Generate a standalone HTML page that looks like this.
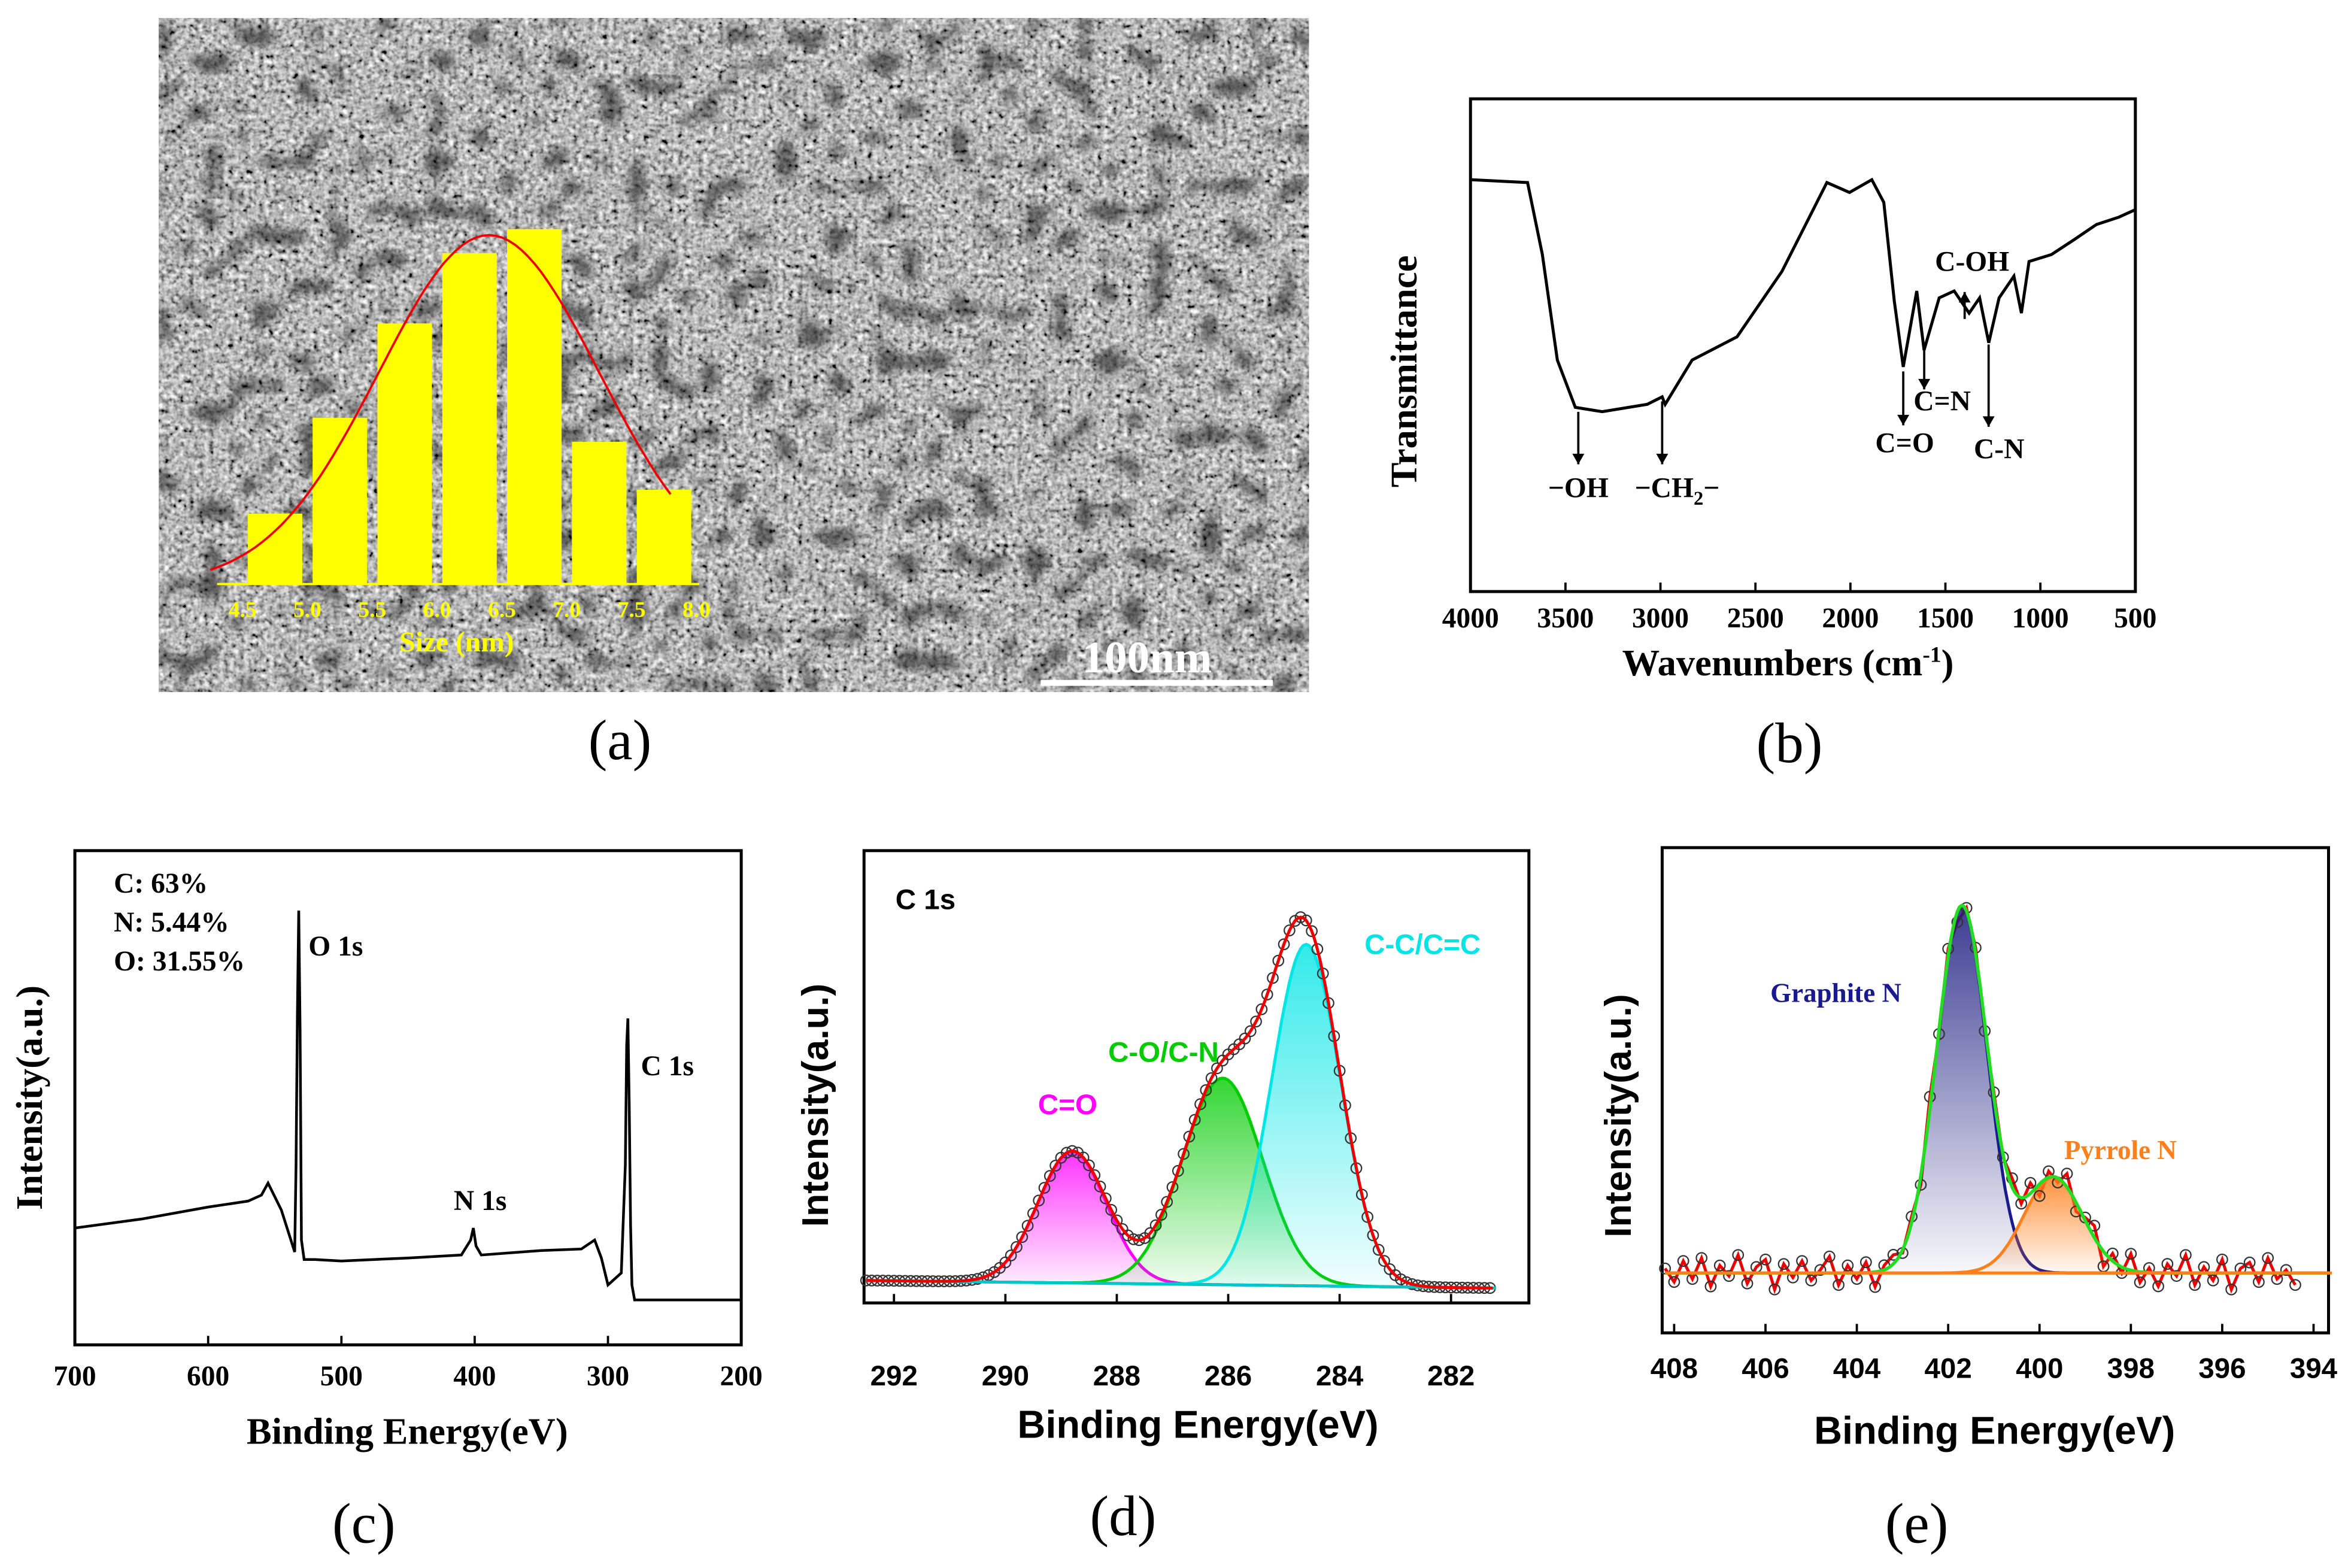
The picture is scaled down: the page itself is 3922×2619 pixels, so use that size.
<!DOCTYPE html>
<html><head><meta charset="utf-8"><title>Carbon dots characterization</title>
<style>html,body{margin:0;padding:0;background:#fff}svg{display:block}
.serif{font-family:"Liberation Serif",serif;font-weight:bold}
.sans{font-family:"Liberation Sans",sans-serif;font-weight:bold}</style></head>
<body>
<svg id="fig" xmlns="http://www.w3.org/2000/svg" width="3922" height="2619" viewBox="0 0 1568 1047" preserveAspectRatio="none">
<defs>
<filter id="tem" x="0" y="0" width="100%" height="100%">
<feTurbulence type="fractalNoise" baseFrequency="0.3" numOctaves="2" seed="3" result="n1"/>
<feColorMatrix in="n1" type="matrix" values="0.33 0.33 0.33 0 0 0.33 0.33 0.33 0 0 0.33 0.33 0.33 0 0 0 0 0 0 1" result="g"/>
<feComponentTransfer in="g"><feFuncR type="linear" slope="2.4" intercept="-0.72"/><feFuncG type="linear" slope="2.4" intercept="-0.72"/><feFuncB type="linear" slope="2.4" intercept="-0.72"/></feComponentTransfer>
</filter>
<filter id="blob" x="0" y="0" width="100%" height="100%">
<feTurbulence type="fractalNoise" baseFrequency="0.06" numOctaves="1" seed="11"/>
<feColorMatrix type="matrix" values="0 0 0 0 0 0 0 0 0 0 0 0 0 0 0 -7 0 0 0 3.15"/>
<feGaussianBlur stdDeviation="2.5"/>
</filter>
<linearGradient id="gM" x1="0" y1="0" x2="0" y2="1"><stop offset="0" stop-color="#ff00ff" stop-opacity="0.8"/><stop offset="1" stop-color="#ff00ff" stop-opacity="0.05"/></linearGradient>
<linearGradient id="gG" x1="0" y1="0" x2="0" y2="1"><stop offset="0" stop-color="#00cc00" stop-opacity="0.8"/><stop offset="1" stop-color="#00cc00" stop-opacity="0.05"/></linearGradient>
<linearGradient id="gC" x1="0" y1="0" x2="0" y2="1"><stop offset="0" stop-color="#00e5e5" stop-opacity="0.8"/><stop offset="1" stop-color="#00e5e5" stop-opacity="0.05"/></linearGradient>
<linearGradient id="gB" x1="0" y1="0" x2="0" y2="1"><stop offset="0" stop-color="#1a1a80" stop-opacity="0.85"/><stop offset="1" stop-color="#1a1a80" stop-opacity="0.03"/></linearGradient>
<linearGradient id="gO" x1="0" y1="0" x2="0" y2="1"><stop offset="0" stop-color="#ff7f1a" stop-opacity="0.85"/><stop offset="1" stop-color="#ff7f1a" stop-opacity="0.05"/></linearGradient>
</defs>
<g id="pa">
<rect x="106" y="12" width="768" height="450" fill="#777" filter="url(#tem)"/>
<rect x="106" y="12" width="768" height="450" fill="#000" filter="url(#blob)" opacity="0.5"/>
<line x1="695" y1="456" x2="850" y2="456" stroke="#fff" stroke-width="4"/>
<text x="766" y="449" class="serif" fill="#fff" font-size="30" text-anchor="middle">100nm</text>
</g>
<g id="pb"></g>
<g id="pc"></g>
<g id="pd"></g>
<g id="pe"></g>
</svg>
<script>
const NS="http://www.w3.org/2000/svg";
function mk(parent,tag,attrs,txt){const e=document.createElementNS(NS,tag);for(const k in attrs)e.setAttribute(k,attrs[k]);if(txt!==undefined)e.textContent=txt;parent.appendChild(e);return e;}

// ---------- Panel (a) histogram data ----------
const sizeBins=[4.75,5.25,5.75,6.25,6.75,7.25,7.75];
const sizeCounts=[47,111,174,221,237,95,63];
const sizeTicks=["4.5","5.0","5.5","6.0","6.5","7.0","7.5","8.0"];
const fitCenter=6.4, fitHeight=233, fitSigma=0.85;
// ---------- Panel (b) FTIR ----------
const ftirWn=[4000,3700,3622,3543,3448,3306,3070,2991,2975,2833,2597,2360,2124,2005,1887,1824,1769,1722,1651,1612,1533,1454,1375,1320,1272,1217,1139,1100,1060,942,823,705,587,500];
const ftirT=[83.6,83,68.4,47,37.4,36.5,38,39.5,38,47,51.7,65,83,81,83.6,79,59,45.6,61,49,59.6,61,56.5,59.6,50.5,59.6,64,56.5,67,68.4,71.4,74.5,76,77.5];
const ftirTicks=[4000,3500,3000,2500,2000,1500,1000,500];
// ---------- Panel (c) survey ----------
const survE=[700,650,600,570,560,555,545,535,534,533,532,531,530,528,520,500,450,410,403,401,399,395,350,320,310,305,300,290,287,286,285,284,283,282,280,250,200];
const survI=[78,84,92,96,100,108,90,62,120,220,290,210,70,57,57,56,58,60,70,78,66,60,63,64,70,58,40,48,120,200,218,160,80,40,30,30,30];
const survTicks=[700,600,500,400,300,200];
// ---------- Panel (d) C1s ----------
const c1sNames=["C=O","C-O/C-N","C-C/C=C"];
const c1sCenters=[288.8,286.1,284.6];
const c1sHeights=[88,138,228];
const c1sFwhm=[1.45,1.7,1.45];
const c1sTicks=[292,290,288,286,284,282];
// ---------- Panel (e) N1s ----------
const n1sNames=["Graphite N","Pyrrole N"];
const n1sCenters=[401.7,399.7];
const n1sHeights=[245,64];
const n1sFwhm=[1.3,1.5];
const n1sTicks=[408,406,404,402,400,398,396,394];
const n1sResid=[3,-6,8,-4,10,-9,5,-2,12,-7,4,9,-11,6,-3,8,-5,2,11,-8,5,-4,7,-10,3,6,-2,4,-6,8,-3,5,-7,2,4,-5,3,-2,6,-4,7,-8,4,-3,9,-6,2,8,-10,5,-4,11,-7,3,-9,6,-2,12,-8,4,-5,9,-11,3,7,-6,10,-4,2,-8];

function gauss(x,c,h,f){const s=f/2.3548;return h*Math.exp(-(x-c)*(x-c)/(2*s*s));}
function axisBox(g,x0,y0,x1,y1,name){const r=mk(g,'rect',{x:x0,y:y0,width:x1-x0,height:y1-y0,fill:'none',stroke:'#000','stroke-width':2});}

// ===== Panel a =====
(function(){
const g=document.getElementById('pa');
const X=v=>162+(v-4.5)/0.5*43.3, Y=v=>390-v;
sizeBins.forEach((b,i)=>{const r=mk(g,'rect',{x:X(b-0.21),y:Y(sizeCounts[i]),width:X(b+0.21)-X(b-0.21),height:sizeCounts[i],fill:'#ffff00'});

});
let d='';for(let v=4.25;v<=7.8;v+=0.05){d+=(d?'L':'M')+X(v).toFixed(1)+','+Y(gauss(v,fitCenter,fitHeight,fitSigma*2.3548)).toFixed(1);}
const p=mk(g,'path',{d:d,fill:'none',stroke:'#e00','stroke-width':1.5});


const ax=mk(g,'line',{x1:145,y1:390,x2:467,y2:390,stroke:'#ffff00','stroke-width':1.5});


sizeTicks.forEach((t,i)=>{const v=4.5+0.5*i;const tx=mk(g,'text',{x:X(v),y:412,'font-size':15,fill:'#ffff00','text-anchor':'middle',class:'serif'},t);

});
const tt=mk(g,'text',{x:305,y:435,'font-size':19,fill:'#ffff00','text-anchor':'middle',class:'serif'},'Size (nm)');


const lb=mk(document.getElementById('fig'),'text',{x:414,y:507,'font-size':38,'text-anchor':'middle','font-family':'Liberation Serif, serif'},'(a)');


})();

// ===== Panel b =====
(function(){
const g=document.getElementById('pb');
const X=v=>982+(4000-v)/3500*444, Y=v=>395-v/100*329;
axisBox(g,982,66,1426,395,'ftir-plot-area');
let d='';ftirWn.forEach((w,i)=>{d+=(i?'L':'M')+X(w).toFixed(1)+','+Y(ftirT[i]).toFixed(1);});
const p=mk(g,'path',{d:d,fill:'none',stroke:'#000','stroke-width':2});


ftirTicks.forEach(t=>{mk(g,'line',{x1:X(t),y1:395,x2:X(t),y2:389,stroke:'#000','stroke-width':1.5});
const tx=mk(g,'text',{x:X(t),y:419,'font-size':19,'text-anchor':'middle',class:'serif'},t);

});
const xt=mk(g,'text',{x:1194,y:451,'font-size':25,'text-anchor':'middle',class:'serif'});
xt.innerHTML='Wavenumbers (cm<tspan dy="-9" font-size="15">-1</tspan><tspan dy="9">)</tspan>';


const yt=mk(g,'text',{x:0,y:0,'font-size':25,'text-anchor':'middle',class:'serif',transform:'translate(946,248) rotate(-90)'},'Transmittance');


const arrows=[[1054,275,310,'down'],[1110,268,310,'down'],[1271,248,284,'down'],[1285,232,260,'down'],[1312,213,195,'up'],[1328,230,285,'down']];
arrows.forEach((a,i)=>{const l=mk(g,'line',{x1:a[0],y1:a[1],x2:a[0],y2:a[2],stroke:'#000','stroke-width':1.5});


const y=a[2],s=a[3]=='down'?-7:7;mk(g,'path',{d:`M${a[0]-4},${y+s}L${a[0]+4},${y+s}L${a[0]},${y}Z`,fill:'#000'});});
const labs=[[1054,332,'−OH'],[1272,302,'C=O'],[1297,274,'C=N'],[1317,181,'C-OH'],[1335,306,'C-N']];
labs.forEach(l=>{const t=mk(g,'text',{x:l[0],y:l[1],'font-size':19,'text-anchor':'middle',class:'serif'},l[2]);

});
const ch=mk(g,'text',{x:1120,y:332,'font-size':19,'text-anchor':'middle',class:'serif'});
ch.innerHTML='−CH<tspan dy="5" font-size="13">2</tspan><tspan dy="-5">−</tspan>';


const lb=mk(g,'text',{x:1195,y:509,'font-size':38,'text-anchor':'middle','font-family':'Liberation Serif, serif'},'(b)');


})();

// ===== Panel c =====
(function(){
const g=document.getElementById('pc');
const X=v=>50+(700-v)/500*445, Y=v=>898-v;
axisBox(g,50,568,495,898,'survey-plot-area');
let d='';survE.forEach((e,i)=>{d+=(i?'L':'M')+X(e).toFixed(1)+','+Y(survI[i]).toFixed(1);});
const p=mk(g,'path',{d:d,fill:'none',stroke:'#000','stroke-width':1.8});


survTicks.forEach(t=>{mk(g,'line',{x1:X(t),y1:898,x2:X(t),y2:892,stroke:'#000','stroke-width':1.5});
const tx=mk(g,'text',{x:X(t),y:925,'font-size':19,'text-anchor':'middle',class:'serif'},t);

});
const xt=mk(g,'text',{x:272,y:964,'font-size':25,'text-anchor':'middle',class:'serif'},'Binding Energy(eV)');


const yt=mk(g,'text',{x:0,y:0,'font-size':25,'text-anchor':'middle',class:'serif',transform:'translate(28,733) rotate(-90)'},'Intensity(a.u.)');


[[76,596,'C: 63%'],[76,622,'N: 5.44%'],[76,648,'O: 31.55%']].forEach(l=>{const t=mk(g,'text',{x:l[0],y:l[1],'font-size':19,class:'serif'},l[2]);

});
[[206,638,'O 1s'],[303,808,'N 1s'],[428,718,'C 1s']].forEach(l=>{const t=mk(g,'text',{x:l[0],y:l[1],'font-size':19,class:'serif'},l[2]);

});
const lb=mk(g,'text',{x:243,y:1030,'font-size':38,'text-anchor':'middle','font-family':'Liberation Serif, serif'},'(c)');


})();

// ===== Panel d =====
(function(){
const g=document.getElementById('pd');
const X=v=>597+(292-v)*37.2, Y=v=>870-v;
const base=e=>15-(292.5-e)*0.45;
axisBox(g,577,568,1021,870,'c1s-plot-area');
const cols=['#ff00ff','#00cc00','#00e5e5'],grads=['url(#gM)','url(#gG)','url(#gC)'];
c1sCenters.forEach((c,k)=>{let d='';for(let e=292.5;e>=281.2;e-=0.05){const y=Y(base(e)+gauss(e,c,c1sHeights[k],c1sFwhm[k]));d+=(d?'L':'M')+X(e).toFixed(1)+','+y.toFixed(1);}
const f=mk(g,'path',{d:d+`L${X(281.2)},${Y(base(281.2))}L${X(292.5)},${Y(base(292.5))}Z`,fill:grads[k],stroke:'none'});


const l=mk(g,'path',{d:d,fill:'none',stroke:cols[k],'stroke-width':2});

});
let env='',pts=[];for(let e=292.5;e>=281.2;e-=0.05){let v=base(e);c1sCenters.forEach((c,k)=>v+=gauss(e,c,c1sHeights[k],c1sFwhm[k]));env+=(env?'L':'M')+X(e).toFixed(1)+','+Y(v).toFixed(1);pts.push([X(e),Y(v)]);}
pts.forEach((p,i)=>{if(i%2==0){const c=mk(g,'circle',{cx:p[0],cy:p[1],r:3.5,fill:'none',stroke:'#333','stroke-width':0.9});

}});
const bl=mk(g,'path',{d:`M${X(292.5)},${Y(base(292.5))}L${X(281.2)},${Y(base(281.2))}`,stroke:'#00c8c8','stroke-width':2});


const ep=mk(g,'path',{d:env,fill:'none',stroke:'#e00','stroke-width':2});


c1sTicks.forEach(t=>{mk(g,'line',{x1:X(t),y1:870,x2:X(t),y2:864,stroke:'#000','stroke-width':1.5});
const tx=mk(g,'text',{x:X(t),y:925,'font-size':19,'text-anchor':'middle',class:'sans'},t);

});
const xt=mk(g,'text',{x:800,y:960,'font-size':26,'text-anchor':'middle',class:'sans'},'Binding Energy(eV)');


const yt=mk(g,'text',{x:0,y:0,'font-size':25,'text-anchor':'middle',class:'sans',transform:'translate(553,738) rotate(-90)'},'Intensity(a.u.)');


const t0=mk(g,'text',{x:598,y:607,'font-size':19,class:'sans'},'C 1s');


[[713,744,cols[0]],[777,709,cols[1]],[950,637,cols[2]]].forEach((l,k)=>{const t=mk(g,'text',{x:l[0],y:l[1],'font-size':19,fill:l[2],class:'sans','text-anchor':'middle'},c1sNames[k]);

});
const lb=mk(g,'text',{x:750,y:1025,'font-size':38,'text-anchor':'middle','font-family':'Liberation Serif, serif'},'(d)');


})();

// ===== Panel e =====
(function(){
const g=document.getElementById('pe');
const X=v=>1118+(408-v)*30.5, Y=v=>890-v;
const base=40;
axisBox(g,1110,566,1555,890,'n1s-plot-area');
const cols=['#1a1a90','#ff7f1a'],grads=['url(#gB)','url(#gO)'];
let env='',dat='',pts=[];
for(let i=0;i<n1sResid.length;i++){const e=408.2-i*0.2;let v=base;n1sCenters.forEach((c,k)=>v+=gauss(e,c,n1sHeights[k],n1sFwhm[k]));const y=Y(v+n1sResid[i]);dat+=(i?'L':'M')+X(e).toFixed(1)+','+y.toFixed(1);pts.push([X(e),y]);}
const dp=mk(g,'path',{d:dat,fill:'none',stroke:'#e00','stroke-width':2});


n1sCenters.forEach((c,k)=>{let d='';for(let e=408.2;e>=393.6;e-=0.05){d+=(d?'L':'M')+X(e).toFixed(1)+','+Y(base+gauss(e,c,n1sHeights[k],n1sFwhm[k])).toFixed(1);}
const f=mk(g,'path',{d:d+`L${X(393.6)},${Y(base)}L${X(408.2)},${Y(base)}Z`,fill:grads[k]});


const l=mk(g,'path',{d:d,fill:'none',stroke:cols[k],'stroke-width':2});

});
pts.forEach(p=>{const c=mk(g,'circle',{cx:p[0],cy:p[1],r:3.5,fill:'none',stroke:'#333','stroke-width':0.9});

});
for(let e=408.2;e>=393.6;e-=0.05){let v=base;n1sCenters.forEach((c,k)=>v+=gauss(e,c,n1sHeights[k],n1sFwhm[k]));env+=(env?'L':'M')+X(e).toFixed(1)+','+Y(v).toFixed(1);}
const ep=mk(g,'path',{d:env,fill:'none',stroke:'#22dd22','stroke-width':2.2});


const bl=mk(g,'line',{x1:X(408.2),y1:Y(base),x2:X(393.6),y2:Y(base),stroke:'#ff7f1a','stroke-width':2});


n1sTicks.forEach(t=>{mk(g,'line',{x1:X(t),y1:890,x2:X(t),y2:884,stroke:'#000','stroke-width':1.5});
const tx=mk(g,'text',{x:X(t),y:920,'font-size':19,'text-anchor':'middle',class:'sans'},t);

});
const xt=mk(g,'text',{x:1332,y:964,'font-size':26,'text-anchor':'middle',class:'sans'},'Binding Energy(eV)');


const yt=mk(g,'text',{x:0,y:0,'font-size':25,'text-anchor':'middle',class:'sans',transform:'translate(1089,745) rotate(-90)'},'Intensity(a.u.)');


[[1226,669,cols[0]],[1416,774,cols[1]]].forEach((l,k)=>{const t=mk(g,'text',{x:l[0],y:l[1],'font-size':18,fill:l[2],class:'serif','text-anchor':'middle'},n1sNames[k]);

});
const lb=mk(g,'text',{x:1280,y:1030,'font-size':38,'text-anchor':'middle','font-family':'Liberation Serif, serif'},'(e)');


})();
</script>
</body></html>
